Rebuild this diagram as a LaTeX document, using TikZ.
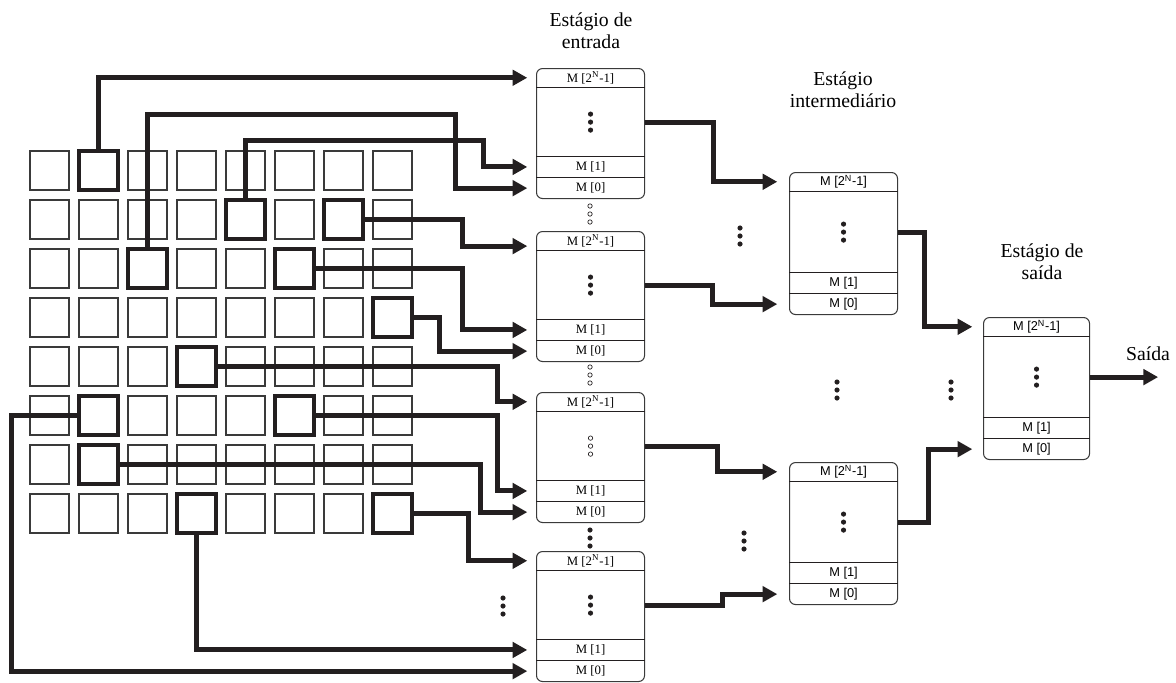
\documentclass[tikz,border=0pt]{standalone}
\usepackage{fontspec}
\setmainfont{Liberation Serif}
\newfontfamily\sans{Liberation Sans}
\usetikzlibrary{positioning,calc,arrows.meta}
\definecolor{traco}{HTML}{231F20}
\definecolor{grade}{HTML}{3A3A3A}
\tikzset{
  celula/.style={draw=grade,line width=1pt,minimum size=29.25pt,inner sep=0pt},
  marcada/.style={draw=traco,line width=2.4pt},
  bloco/.style={draw=grade,line width=0.8pt,rounded corners=4.5pt,inner sep=0pt},
  linha/.style={inner sep=0pt,font=\fontsize{9.6}{10}\selectfont},
  fino/.style={draw=traco,line width=0.8pt},
  bus/.style={draw=traco,line width=3.8pt,-{Triangle[length=11pt,width=11.5pt]}},
  titulo/.style={align=center,font=\fontsize{14.8}{16.5}\selectfont},
  pics/pontos/.style={code={\foreach\k in{-1,0,1}\filldraw[draw=traco,fill=#1,line width=0.5pt](0,\k*8)circle[radius=2.2];}}
}
\newcommand{\bloco}[6]{%
  \node[bloco,minimum width=#3,minimum height=#4,anchor=north west](#1)at(#2){};
  \node[linha,minimum width=#3,minimum height=14.25pt,anchor=north](#1-t)at(#1.north){#5M [2\textsuperscript{N}-1]};
  \node[linha,minimum width=#3,minimum height=16pt,anchor=south](#1-b)at(#1.south){#5M [0]};
  \node[linha,minimum width=#3,minimum height=15pt,anchor=south](#1-a)at(#1-b.north){#5M [1]};
  \draw[fino](#1-t.south west)--(#1-t.south east)(#1-a.north west)--(#1-a.north east)(#1-b.north west)--(#1-b.north east);
  \coordinate(#1-m)at($(#1-t.south)!.5!(#1-a.north)$);
  \pic at(#1-m){pontos=#6};}

\begin{document}
\begin{tikzpicture}[x=0.75pt,y=-0.75pt]
  \useasboundingbox(0,0)rectangle(1176,682);
  \foreach\i in{0,...,7}\foreach\j in{0,...,7}\node[celula](c\i\j)at({49.5+49*\j},{170.5+49*\i}){};
  \foreach\c in{01,14,16,22,25,37,43,51,55,61,73,77}\node[celula,marcada]at(c\c){};

  \bloco{e1}{536,68}{81pt}{97.5pt}{}{traco}
  \bloco{e2}{536,231}{81pt}{97.5pt}{}{traco}
  \bloco{e3}{536,392}{81pt}{97.5pt}{}{white}
  \bloco{e4}{536,551}{81pt}{97.5pt}{}{traco}
  \bloco{i1}{789,172}{81pt}{106.5pt}{\sans}{traco}
  \bloco{i2}{789,462}{81pt}{106.5pt}{\sans}{traco}
  \bloco{s}{983,317}{79.5pt}{106.5pt}{\sans}{traco}

  \pic at(590,214){pontos=white};\pic at(590,375){pontos=white};\pic at(590,538){pontos=traco};
  \pic at(503,606){pontos=traco};\pic at(740,236){pontos=traco};\pic at(744,541){pontos=traco};
  \pic at(837,390){pontos=traco};\pic at(951,390){pontos=traco};

  \node[titulo](tEnt)at(591,31){Estágio de\\entrada};
  \node[titulo](tInt)at(843,90){Estágio\\intermediário};
  \node[titulo](tSai)at(1042,262){Estágio de\\saída};
  \node[titulo](saida)at(1148,354){Saída};

  \draw[bus](c01.north)|-([xshift=-6.75pt]e1-t.west);
  \draw[bus](c14.north)--++(0,-59)--++(238,0)|-([xshift=-6.75pt]e1-a.west);
  \draw[bus](c22.north)--++(0,-134)--++(308,0)|-([xshift=-6.75pt]e1-b.west);
  \draw[bus](c16.east)--++(99,0)|-([xshift=-6.75pt,yshift=-4pt]e2-t.west);
  \draw[bus](c25.east)--++(148,0)|-([xshift=-6.75pt]e2-a.west);
  \draw[bus](c37.east)--++(27,0)|-([xshift=-6.75pt]e2-b.west);
  \draw[bus](c43.east)--++(281,0)|-([xshift=-6.75pt]e3-t.west);
  \draw[bus](c55.east)--++(183,0)|-([xshift=-6.75pt]e3-a.west);
  \draw[bus](c61.east)--++(362,0)|-([xshift=-6.75pt]e3-b.west);
  \draw[bus](c77.east)--++(56,0)|-([xshift=-6.75pt]e4-t.west);
  \draw[bus](c73.south)|-([xshift=-6.75pt]e4-a.west);
  \draw[bus](c51.west)--++(-67,0)|-([xshift=-6.75pt]e4-b.west);

  \draw[bus](e1-m -| e1.east)--++(68,0)|-([xshift=-9pt]i1-t.west);
  \draw[bus](e2-m -| e2.east)--++(67,0)|-([xshift=-9pt]i1-b.west);
  \draw[bus](e3-m -| e3.east)--++(72,0)|-([xshift=-9pt]i2-t.west);
  \draw[bus](e4-m -| e4.east)--++(77,0)|-([xshift=-9pt]i2-b.west);
  \draw[bus](i1-m -| i1.east)--++(26,0)|-([xshift=-8.25pt]s-t.west);
  \draw[bus](i2-m -| i2.east)--++(30,0)|-([xshift=-8.25pt]s-b.west);
  \draw[bus](s-m -| s.east)--++(68,0);
\end{tikzpicture}
\end{document}
